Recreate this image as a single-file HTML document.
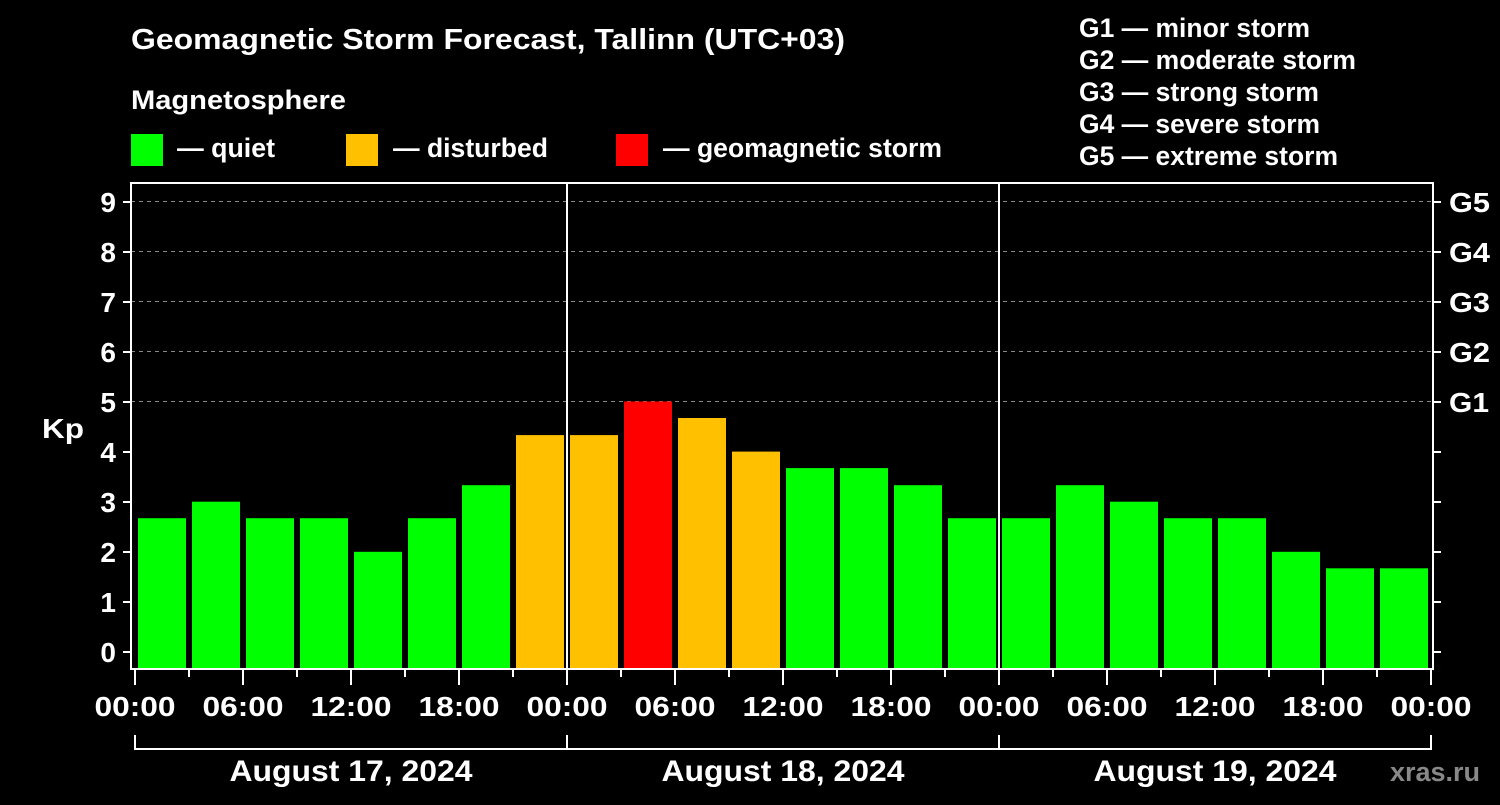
<!DOCTYPE html>
<html><head><meta charset="utf-8"><style>
body{margin:0;background:#000;}
text{font-family:"Liberation Sans",sans-serif;font-weight:bold;fill:#fff;}
</style></head><body>
<svg width="1500" height="800" xmlns="http://www.w3.org/2000/svg">
<rect width="1500" height="800" fill="#000"/>
<text x="131" y="49" font-size="29" textLength="714" lengthAdjust="spacingAndGlyphs">Geomagnetic Storm Forecast, Tallinn (UTC+03)</text>
<text x="131" y="109" font-size="27" textLength="215" lengthAdjust="spacingAndGlyphs">Magnetosphere</text>
<rect x="131" y="134" width="32" height="32" fill="#00ff00"/>
<text x="177" y="157" font-size="27" textLength="98" lengthAdjust="spacingAndGlyphs">— quiet</text>
<rect x="346" y="134" width="32" height="32" fill="#ffc000"/>
<text x="393" y="157" font-size="27" textLength="155" lengthAdjust="spacingAndGlyphs">— disturbed</text>
<rect x="616" y="134" width="32" height="32" fill="#ff0000"/>
<text x="663" y="157" font-size="27" textLength="279" lengthAdjust="spacingAndGlyphs">— geomagnetic storm</text>
<g font-size="27">
<text x="1079" y="37" textLength="231" lengthAdjust="spacingAndGlyphs">G1 — minor storm</text>
<text x="1079" y="69" textLength="277" lengthAdjust="spacingAndGlyphs">G2 — moderate storm</text>
<text x="1079" y="101" textLength="240" lengthAdjust="spacingAndGlyphs">G3 — strong storm</text>
<text x="1079" y="133" textLength="241" lengthAdjust="spacingAndGlyphs">G4 — severe storm</text>
<text x="1079" y="165" textLength="259" lengthAdjust="spacingAndGlyphs">G5 — extreme storm</text>
</g>
<g stroke="#888" stroke-dasharray="4,4" stroke-width="1">
<line x1="131" x2="1433" y1="201.5" y2="201.5"/>
<line x1="131" x2="1433" y1="251.5" y2="251.5"/>
<line x1="131" x2="1433" y1="301.5" y2="301.5"/>
<line x1="131" x2="1433" y1="351.5" y2="351.5"/>
<line x1="131" x2="1433" y1="401.5" y2="401.5"/>
</g>
<g>
<rect x="138" y="518.2" width="48" height="149.8" fill="#00ff00"/>
<rect x="192" y="501.7" width="48" height="166.3" fill="#00ff00"/>
<rect x="246" y="518.2" width="48" height="149.8" fill="#00ff00"/>
<rect x="300" y="518.2" width="48" height="149.8" fill="#00ff00"/>
<rect x="354" y="551.8" width="48" height="116.2" fill="#00ff00"/>
<rect x="408" y="518.2" width="48" height="149.8" fill="#00ff00"/>
<rect x="462" y="485.2" width="48" height="182.8" fill="#00ff00"/>
<rect x="516" y="435.1" width="48" height="232.9" fill="#ffc000"/>
<rect x="570" y="435.1" width="48" height="232.9" fill="#ffc000"/>
<rect x="624" y="401.5" width="48" height="266.5" fill="#ff0000"/>
<rect x="678" y="418" width="48" height="250" fill="#ffc000"/>
<rect x="732" y="451.6" width="48" height="216.4" fill="#ffc000"/>
<rect x="786" y="468.1" width="48" height="199.9" fill="#00ff00"/>
<rect x="840" y="468.1" width="48" height="199.9" fill="#00ff00"/>
<rect x="894" y="485.2" width="48" height="182.8" fill="#00ff00"/>
<rect x="948" y="518.2" width="48" height="149.8" fill="#00ff00"/>
<rect x="1002" y="518.2" width="48" height="149.8" fill="#00ff00"/>
<rect x="1056" y="485.2" width="48" height="182.8" fill="#00ff00"/>
<rect x="1110" y="501.7" width="48" height="166.3" fill="#00ff00"/>
<rect x="1164" y="518.2" width="48" height="149.8" fill="#00ff00"/>
<rect x="1218" y="518.2" width="48" height="149.8" fill="#00ff00"/>
<rect x="1272" y="551.8" width="48" height="116.2" fill="#00ff00"/>
<rect x="1326" y="568.3" width="48" height="99.7" fill="#00ff00"/>
<rect x="1380" y="568.3" width="48" height="99.7" fill="#00ff00"/>
</g>
<g stroke="#fff" stroke-width="2" fill="none">
<rect x="131" y="183" width="1302" height="486"/>
<line x1="567" x2="567" y1="183" y2="669"/>
<line x1="999" x2="999" y1="183" y2="669"/>
<line x1="123" x2="131" y1="652" y2="652"/><line x1="1433" x2="1441" y1="652" y2="652"/>
<line x1="123" x2="131" y1="602" y2="602"/><line x1="1433" x2="1441" y1="602" y2="602"/>
<line x1="123" x2="131" y1="552" y2="552"/><line x1="1433" x2="1441" y1="552" y2="552"/>
<line x1="123" x2="131" y1="502" y2="502"/><line x1="1433" x2="1441" y1="502" y2="502"/>
<line x1="123" x2="131" y1="452" y2="452"/><line x1="1433" x2="1441" y1="452" y2="452"/>
<line x1="123" x2="131" y1="402" y2="402"/><line x1="1433" x2="1441" y1="402" y2="402"/>
<line x1="123" x2="131" y1="352" y2="352"/><line x1="1433" x2="1441" y1="352" y2="352"/>
<line x1="123" x2="131" y1="302" y2="302"/><line x1="1433" x2="1441" y1="302" y2="302"/>
<line x1="123" x2="131" y1="252" y2="252"/><line x1="1433" x2="1441" y1="252" y2="252"/>
<line x1="123" x2="131" y1="202" y2="202"/><line x1="1433" x2="1441" y1="202" y2="202"/>
<path d="M135 669V685M243 669V685M351 669V685M459 669V685M567 669V685M675 669V685M783 669V685M891 669V685M999 669V685M1107 669V685M1215 669V685M1323 669V685M1431 669V685"/>
<path d="M189 669V677M297 669V677M405 669V677M513 669V677M621 669V677M729 669V677M837 669V677M945 669V677M1053 669V677M1161 669V677M1269 669V677M1377 669V677"/>
<polyline points="135,735 135,749 1431,749 1431,735"/>
<line x1="567" x2="567" y1="735" y2="749"/><line x1="999" x2="999" y1="735" y2="749"/>
</g>
<g font-size="28" text-anchor="end">
<text x="116" y="662">0</text><text x="116" y="612">1</text><text x="116" y="562">2</text>
<text x="116" y="512">3</text><text x="116" y="462">4</text><text x="116" y="412">5</text>
<text x="116" y="362">6</text><text x="116" y="312">7</text><text x="116" y="262">8</text>
<text x="116" y="212">9</text>
</g>
<g font-size="28">
<text x="1449" y="412" textLength="40" lengthAdjust="spacingAndGlyphs">G1</text><text x="1449" y="362" textLength="41" lengthAdjust="spacingAndGlyphs">G2</text><text x="1449" y="312" textLength="41" lengthAdjust="spacingAndGlyphs">G3</text>
<text x="1449" y="262" textLength="41" lengthAdjust="spacingAndGlyphs">G4</text><text x="1449" y="212" textLength="41" lengthAdjust="spacingAndGlyphs">G5</text>
</g>
<g font-size="28" text-anchor="middle">
<text x="135" y="716" textLength="81" lengthAdjust="spacingAndGlyphs">00:00</text>
<text x="243" y="716" textLength="81" lengthAdjust="spacingAndGlyphs">06:00</text>
<text x="351" y="716" textLength="81" lengthAdjust="spacingAndGlyphs">12:00</text>
<text x="459" y="716" textLength="81" lengthAdjust="spacingAndGlyphs">18:00</text>
<text x="567" y="716" textLength="81" lengthAdjust="spacingAndGlyphs">00:00</text>
<text x="675" y="716" textLength="81" lengthAdjust="spacingAndGlyphs">06:00</text>
<text x="783" y="716" textLength="81" lengthAdjust="spacingAndGlyphs">12:00</text>
<text x="891" y="716" textLength="81" lengthAdjust="spacingAndGlyphs">18:00</text>
<text x="999" y="716" textLength="81" lengthAdjust="spacingAndGlyphs">00:00</text>
<text x="1107" y="716" textLength="81" lengthAdjust="spacingAndGlyphs">06:00</text>
<text x="1215" y="716" textLength="81" lengthAdjust="spacingAndGlyphs">12:00</text>
<text x="1323" y="716" textLength="81" lengthAdjust="spacingAndGlyphs">18:00</text>
<text x="1431" y="716" textLength="81" lengthAdjust="spacingAndGlyphs">00:00</text>
</g>
<text x="42" y="438" font-size="28" textLength="42" lengthAdjust="spacingAndGlyphs">Kp</text>
<g font-size="30" text-anchor="middle">
<text x="351" y="781" textLength="243" lengthAdjust="spacingAndGlyphs">August 17, 2024</text>
<text x="783" y="781" textLength="243" lengthAdjust="spacingAndGlyphs">August 18, 2024</text>
<text x="1215" y="781" textLength="243" lengthAdjust="spacingAndGlyphs">August 19, 2024</text>
</g>
<text x="1480" y="781" font-size="27" text-anchor="end" style="fill:#888">xras.ru</text>
</svg>
</body></html>
